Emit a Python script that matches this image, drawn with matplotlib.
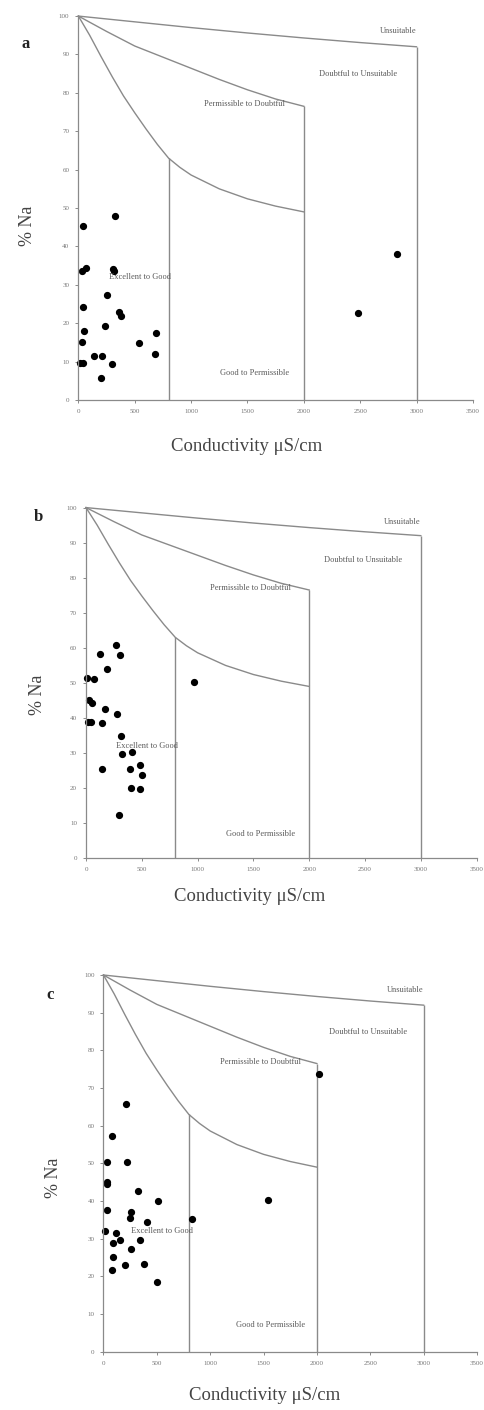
import matplotlib
matplotlib.use("Agg")
import matplotlib.pyplot as plt

plt.rcParams['font.family'] = ['Liberation Serif', 'DejaVu Serif']

# Wilcox boundary curves (conductivity uS/cm, % Na)
top_x = [0, 500, 1000, 1500, 2000, 2500, 3000]
top_y = [100, 98.5, 97.0, 95.6, 94.3, 93.1, 92.0]
mid_x = [0, 250, 500, 750, 1000, 1250, 1500, 1750, 2000]
mid_y = [100, 96.0, 92.2, 89.3, 86.4, 83.5, 80.8, 78.4, 76.5]
low_x = [0, 100, 200, 300, 400, 500, 600, 700, 800, 900, 1000, 1250, 1500, 1750, 2000]
low_y = [100, 95, 89.5, 84.2, 79.2, 74.8, 70.6, 66.6, 63.0, 60.6, 58.6, 55.0, 52.4, 50.5, 49.0]
bound_x = [800, 2000, 3000]

zone_names = ["Unsuitable", "Doubtful to Unsuitable", "Permissible to Doubtful",
              "Excellent to Good", "Good to Permissible"]
zone_x = [3000, 2480, 1470, 545, 1565]
zone_y = [96, 85, 77, 32, 7]

xticks = [0, 500, 1000, 1500, 2000, 2500, 3000, 3500]
yticks = [0, 10, 20, 30, 40, 50, 60, 70, 80, 90, 100]

# sample sets
a_cond = [327, 44, 30, 68, 304, 319, 254, 44, 357, 381, 236, 47, 688, 29, 540,
          142, 206, 679, 15, 44, 295, 201, 2823, 2478]
a_na = [48.0, 45.4, 33.5, 34.5, 34.1, 33.7, 27.4, 24.1, 23.0, 21.9, 19.2, 18.0,
        17.4, 15.0, 14.9, 11.5, 11.5, 12.0, 9.7, 9.7, 9.5, 5.8, 38.0, 22.7]

b_cond = [269, 125, 305, 185, 6, 75, 968, 30, 51, 170, 281, 21, 42, 146, 311,
          325, 415, 146, 397, 484, 505, 400, 487, 296]
b_na = [60.9, 58.3, 57.9, 54.0, 51.3, 51.1, 50.3, 45.1, 44.4, 42.5, 41.0, 38.8,
        38.8, 38.5, 34.9, 29.7, 30.3, 25.5, 25.5, 26.5, 23.7, 20.1, 19.8, 12.4]

c_cond = [2021, 215, 76, 30, 221, 30, 30, 323, 513, 1537, 35, 262, 246, 410,
          834, 17, 122, 85, 153, 339, 255, 91, 200, 379, 82, 506]
c_na = [73.6, 65.7, 57.3, 50.4, 50.4, 45.1, 44.4, 42.7, 40.1, 40.3, 37.6, 37.2,
        35.4, 34.5, 35.2, 32.1, 31.4, 29.0, 29.7, 29.7, 27.3, 25.2, 22.9, 23.2,
        21.7, 18.4]

panels = [
    # letter, data, axes rect, letter pos, ylabel pos, xlabel pos
    ("a", a_cond, a_na, [0.162, 0.7163, 0.815, 0.2723], (0.052, 0.969), (-0.128, 0.453), (0.426, -0.122)),
    ("b", b_cond, b_na, [0.1777, 0.3913, 0.807, 0.2487], (0.0785, 0.633), (-0.125, 0.466), (0.42, -0.108)),
    ("c", c_cond, c_na, [0.2138, 0.0413, 0.7717, 0.2672], (0.103, 0.294), (-0.134, 0.461), (0.432, -0.117)),
]

line_col = "#8a8a8a"
text_col = "#5a5a5a"

fig = plt.figure(figsize=(4.84, 14.10), dpi=100)

for letter, cond, na, rect, lpos, ypos, xpos in panels:
    ax = fig.add_axes(rect)
    ax.set_xlim(0, 3500)
    ax.set_ylim(0, 100)

    ax.plot(top_x, top_y, color=line_col, lw=1.0, clip_on=False)
    ax.plot(mid_x, mid_y, color=line_col, lw=1.0, clip_on=False)
    ax.plot(low_x, low_y, color=line_col, lw=1.0, clip_on=False)
    ax.vlines(bound_x[0], 0, low_y[low_x.index(800)], color=line_col, lw=1.0)
    ax.vlines(bound_x[1], 0, mid_y[-1], color=line_col, lw=1.0)
    ax.vlines(bound_x[2], 0, top_y[-1], color=line_col, lw=1.0)

    for i, name in enumerate(zone_names):
        ha = "right" if i == 0 else "center"
        ax.text(zone_x[i], zone_y[i], name, ha=ha, va="center",
                fontsize=6, color=text_col)

    ax.plot(cond, na, "o", color="black", ms=4.2, clip_on=False)

    for s in ["top", "right"]:
        ax.spines[s].set_visible(False)
    for s in ["left", "bottom"]:
        ax.spines[s].set_color(line_col)
        ax.spines[s].set_linewidth(0.9)

    ax.set_xticks(xticks)
    ax.set_yticks(yticks)
    ax.tick_params(direction="out", length=2.5, width=0.7, colors=line_col,
                   labelsize=5, labelcolor="#777777", pad=4)

    ax.set_ylabel("% Na", fontsize=13, color="#444444", va="center")
    ax.yaxis.set_label_coords(*ypos)
    ax.set_xlabel("Conductivity μS/cm", fontsize=13.5, color="#444444", va="center")
    ax.xaxis.set_label_coords(*xpos)

    fig.text(lpos[0], lpos[1], letter, fontsize=12, fontweight="bold",
             ha="center", va="center", color="#222222")

fig.savefig("out.png", dpi=100)
